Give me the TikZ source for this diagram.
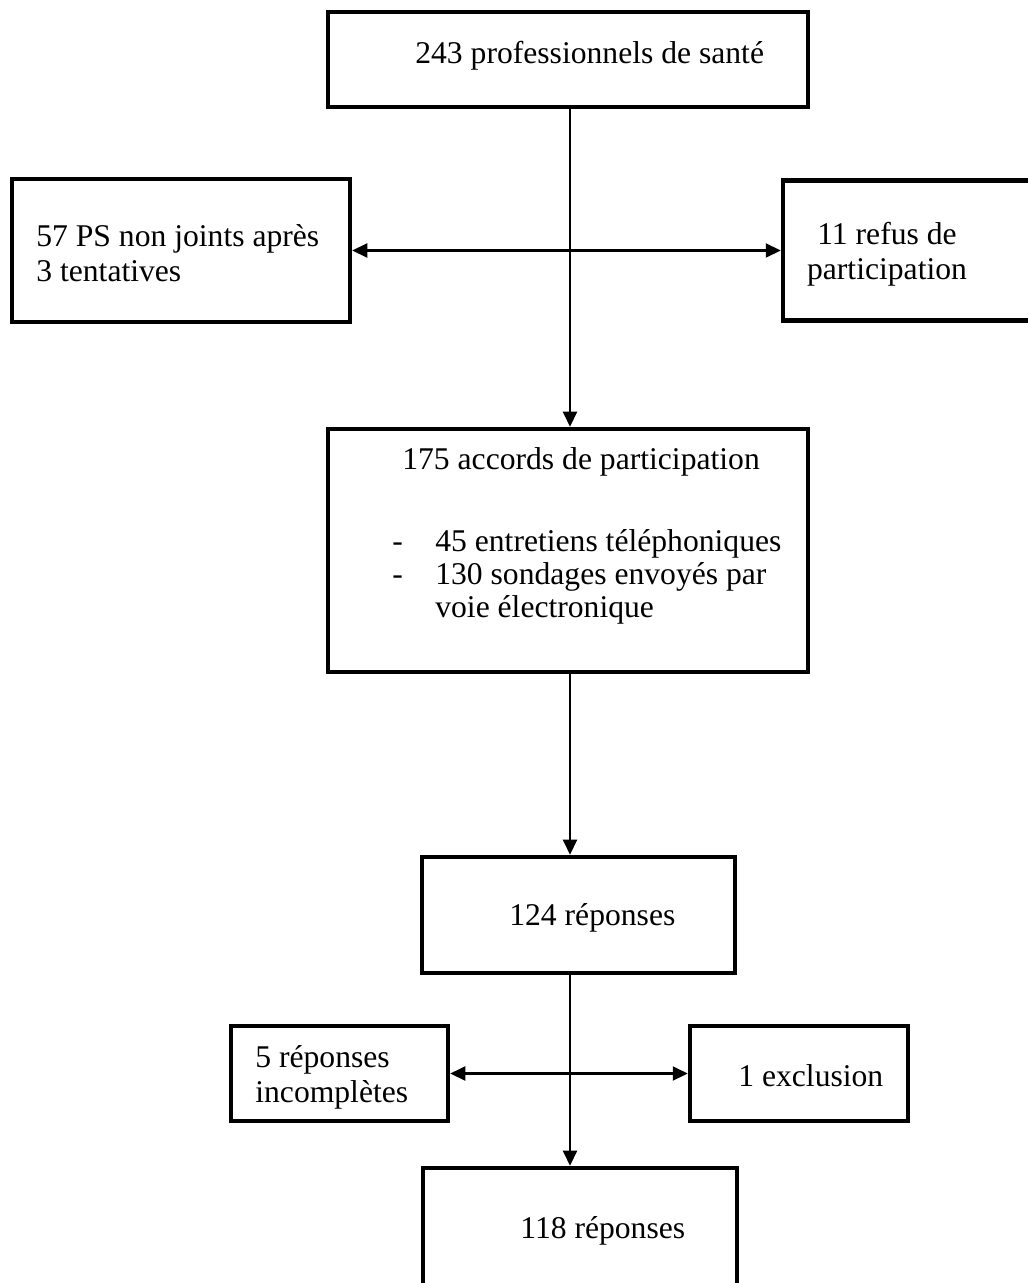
\documentclass[tikz,border=0pt]{standalone}
\usepackage{fontspec}
\setmainfont{Liberation Serif}
\usepackage{tikz}
\usetikzlibrary{arrows.meta, positioning}

\tikzset{
  cadre/.style={draw, line width=2.6pt, inner sep=0pt},
  txt/.style={font=\fontsize{18}{20}\selectfont, inner sep=0pt, align=left},
  fleche/.style={line width=1.2pt}
}

\begin{document}
\begin{tikzpicture}[x=0.02cm, y=-0.02cm, >={Triangle[length=0.3cm, width=0.28cm]}]
  % fond et cadre de la page
  \fill[white] (0,0) rectangle (1027,1283);
  \useasboundingbox (0,0) rectangle (1027,1283);
  \coordinate (axe) at (570,0);

  % Recrutement
  \node[cadre, minimum width=9.6cm, minimum height=1.9cm] (total) at (568,59.5) {};
  \node[txt, anchor=west] at (415,56) {243 professionnels de santé};

  % Pertes
  \node[cadre, minimum width=6.76cm, minimum height=2.86cm] (nonjoints) at (181,250.5) {};
  \node[txt, anchor=west] at (36,253) {57 PS non joints après\\3 tentatives};
  \node[cadre, minimum width=5.54cm, minimum height=2.8cm] (refus) at (921.5,250.5) {};
  \node[txt, align=center] at (887,254) {11 refus de\\participation};

  % Accords
  \node[cadre, minimum width=9.6cm, minimum height=4.86cm] (accords) at (568,550.5) {};
  \node[txt, anchor=west] at (402,462) {175 accords de participation};
  \node[txt, anchor=west, font=\fontsize{18}{18.6}\selectfont] at (392,577)
    {\makebox[0.86cm][l]{-}45 entretiens téléphoniques\\
     \makebox[0.86cm][l]{-}130 sondages envoyés par\\
     \hspace*{0.86cm}voie électronique};

  % Réponses
  \node[cadre, minimum width=6.26cm, minimum height=2.32cm] (rep124) at (578.5,915) {};
  \node[txt, anchor=west] at (509,918) {124 réponses};
  \node[cadre, minimum width=4.34cm, minimum height=1.9cm] (incomp) at (339.5,1073.5) {};
  \node[txt, anchor=west] at (255,1077) {5 réponses\\incomplètes};
  \node[cadre, minimum width=4.36cm, minimum height=1.9cm] (excl) at (799,1073.5) {};
  \node[txt, anchor=west] at (738,1076) {1 exclusion};
  \node[cadre, minimum width=6.28cm, minimum height=3.04cm] (rep118) at (580,1244) {};
  \node[txt, anchor=west] at (520,1231) {118 réponses};

  % Flèches
  \draw[fleche, ->] (total.south -| axe) -- (accords.north -| axe);
  \draw[fleche, <->] (nonjoints.east) -- (refus.west);
  \draw[fleche, ->] (accords.south -| axe) -- (rep124.north -| axe);
  \draw[fleche, ->] (rep124.south -| axe) -- (rep118.north -| axe);
  \draw[fleche, <->] (incomp.east) -- (excl.west);
\end{tikzpicture}
\end{document}
